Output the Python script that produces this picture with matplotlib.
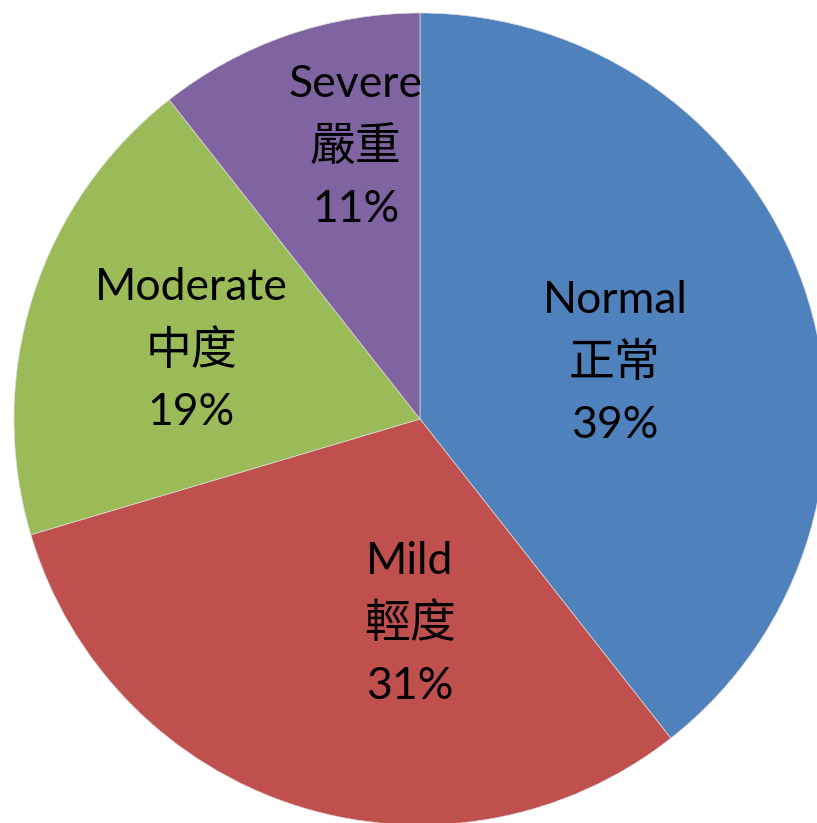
import matplotlib
matplotlib.use("Agg")
import matplotlib.pyplot as plt

# data
labels_en = ["Normal", "Mild", "Moderate", "Severe"]
labels_zh = ["正常", "輕度", "中度", "嚴重"]
shares = [39.4, 31.0, 19.0, 10.6]
colors = ["#4F81BD", "#C0504D", "#9BBB59", "#8064A2"]

# where each label block sits (centre of the Chinese line), in pie-radius units
label_pos = [(0.480, 0.138), (-0.025, -0.505), (-0.563, 0.169), (-0.158, 0.669)]
line_gap = 0.154

W, H = 817, 823
cx, cy, R = 420, 419, 406

fig = plt.figure(figsize=(W / 100, H / 100), dpi=100)
ax = fig.add_axes([0, 0, 1, 1])
ax.pie(shares, colors=colors, startangle=90, counterclock=False, radius=1,
       wedgeprops=dict(linewidth=0.5, edgecolor="#dddddd"))
ax.set_xlim(-cx / R, (W - cx) / R)
ax.set_ylim(-(H - cy) / R, cy / R)
ax.set_aspect("equal")
ax.axis("off")

total = sum(shares)
for en, zh, v, (x, y) in zip(labels_en, labels_zh, shares, label_pos):
    ax.text(x, y + line_gap, en, ha="center", va="center", fontsize=32,
            family=["Lato", "DejaVu Sans"], color="black")
    ax.text(x, y, zh, ha="center", va="center", fontsize=33,
            family=["Noto Sans CJK TC", "DejaVu Sans"], color="black")
    ax.text(x, y - line_gap, f"{round(100 * v / total)}%", ha="center", va="center",
            fontsize=32, family=["Lato", "DejaVu Sans"], color="black")

fig.savefig("out.png", dpi=100)
